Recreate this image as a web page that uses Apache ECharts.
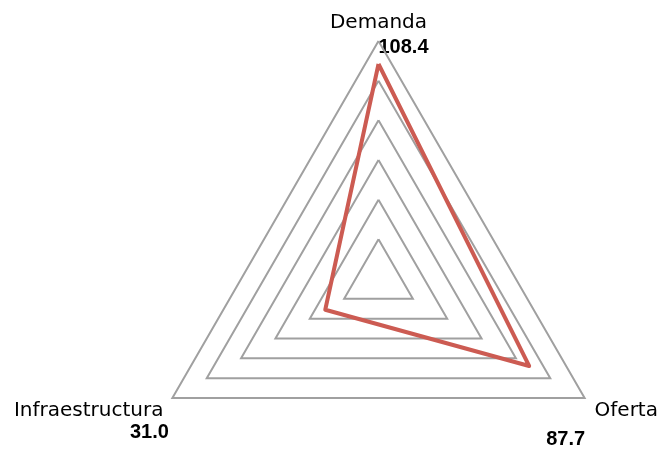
<!DOCTYPE html>
<html>
<head>
<meta charset="utf-8">
<script src="https://cdn.jsdelivr.net/npm/echarts@6/dist/echarts.min.js"></script>
<style>html,body{margin:0;padding:0;background:#fff}#c{width:668px;height:451px}</style>
</head>
<body>
<div id="c"></div>
<script>
var categories = ['Demanda', 'Infraestructura', 'Oferta'];
var values = [108.4, 31.0, 87.7];
var axisMax = 120;

var FONT = 'DejaVu Sans';
var VFONT = 'Liberation Sans';
var chart = echarts.init(document.getElementById('c'), null, {renderer: 'canvas'});
var cx = 378.5, cy = 279, R = 238;
// label offsets from the vertices (layout only)
var valueOffsets = [[25, 6], [-23, 34], [-19, 41]];
var nameStyles = ['top', 'bl', 'br'];
var graphics = categories.map(function (c, i) {
  var ang = Math.PI / 2 + i * 2 * Math.PI / 3;
  var vx = cx + R * Math.cos(ang), vy = cy - R * Math.sin(ang);
  return {
    type: 'text',
    x: vx + valueOffsets[i][0],
    y: vy + valueOffsets[i][1],
    style: {
      text: values[i].toFixed(1),
      font: 'bold 20px "' + VFONT + '"',
      fill: '#000',
      align: 'center',
      verticalAlign: 'middle'
    }
  };
});

chart.setOption({
  animation: false,
  radar: {
    center: [cx, cy],
    radius: R,
    startAngle: 90,
    splitNumber: 6,
    shape: 'polygon',
    indicator: categories.map(function (c) { return {name: c, max: axisMax, min: 0}; }),
    axisName: {
      color: '#000', fontFamily: FONT, fontSize: 20,
      formatter: function (name) {
        var i = categories.indexOf(name);
        return '{' + nameStyles[i] + '|' + name + '}';
      },
      rich: {
        top: {fontFamily: FONT, fontSize: 20, color: '#000', padding: [0, 0, 0, 0]},
        bl: {fontFamily: FONT, fontSize: 20, color: '#000', padding: [18, 2, 0, 0]},
        br: {fontFamily: FONT, fontSize: 20, color: '#000', padding: [18, 0, 0, 3]}
      }
    },
    nameGap: 8,
    axisLine: {show: false},
    axisTick: {show: false},
    axisLabel: {show: false},
    splitArea: {show: false},
    splitLine: {lineStyle: {color: '#A0A0A0', width: 2}}
  },
  graphic: graphics,
  series: [{
    type: 'radar',
    symbol: 'none',
    data: [{value: values}],
    lineStyle: {color: '#CC5B52', width: 4},
    itemStyle: {color: '#CC5B52'}
  }]
});
</script>
</body>
</html>
